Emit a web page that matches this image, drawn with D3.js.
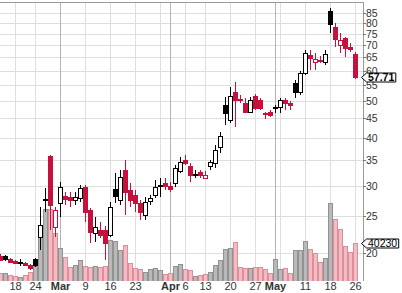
<!DOCTYPE html>
<html>
<head>
<meta charset="utf-8">
<script src="https://cdn.jsdelivr.net/npm/d3@7"></script>
<style>
  body { margin: 0; background: #fff; }
  svg { display: block; font-family: "Liberation Sans", Arial, sans-serif; }
</style>
</head>
<body>
<div id="chart"></div>
<script>
// daily bars, Feb 12 - May 26 2020
const dates = [
  '2020-02-12','2020-02-13','2020-02-14','2020-02-18','2020-02-19','2020-02-20','2020-02-21','2020-02-24','2020-02-25','2020-02-26','2020-02-27','2020-02-28',
  '2020-03-02','2020-03-03','2020-03-04','2020-03-05','2020-03-06','2020-03-09','2020-03-10','2020-03-11','2020-03-12','2020-03-13','2020-03-16','2020-03-17',
  '2020-03-18','2020-03-19','2020-03-20','2020-03-23','2020-03-24','2020-03-25','2020-03-26','2020-03-27','2020-03-30','2020-03-31',
  '2020-04-01','2020-04-02','2020-04-03','2020-04-06','2020-04-07','2020-04-08','2020-04-09','2020-04-13','2020-04-14','2020-04-15','2020-04-16','2020-04-17',
  '2020-04-20','2020-04-21','2020-04-22','2020-04-23','2020-04-24','2020-04-27','2020-04-28','2020-04-29','2020-04-30',
  '2020-05-01','2020-05-04','2020-05-05','2020-05-06','2020-05-07','2020-05-08','2020-05-11','2020-05-12','2020-05-13','2020-05-14','2020-05-15',
  '2020-05-18','2020-05-19','2020-05-20','2020-05-21','2020-05-22','2020-05-26'
];
const open = [
  19.68,19.68,19.33,19.09,18.90,18.87,18.64,19.33,22.05,27.56,35.92,23.43,
  27.07,28.23,28.06,27.56,27.90,29.80,25.95,22.59,23.00,23.00,22.32,29.45,
  27.56,33.02,29.27,28.40,27.07,25.18,27.40,28.40,30.08,30.50,
  30.00,30.50,32.80,35.07,33.80,32.13,32.60,31.47,33.80,34.44,37.90,48.83,
  44.61,52.80,50.60,49.40,46.80,51.55,50.32,46.52,46.80,
  48.25,48.25,50.32,49.40,55.75,52.80,59.20,65.99,63.30,64.20,63.30,
  86.00,78.10,70.09,73.10,69.40,66.40
];
const high = [
  19.88,19.80,19.44,19.21,19.33,18.98,18.75,19.44,26.42,29.60,36.14,26.42,
  30.72,28.90,28.90,28.90,30.17,30.17,26.26,24.88,24.14,23.57,27.23,32.40,
  33.02,35.07,30.50,29.27,27.56,28.06,28.40,31.09,31.47,31.47,
  30.72,34.03,35.70,36.14,34.44,33.02,33.02,32.80,35.07,38.38,41.50,51.20,
  54.40,56.08,51.90,50.90,51.20,52.17,50.90,46.80,47.38,
  48.83,50.90,50.90,50.00,56.76,59.80,68.01,68.01,66.80,65.60,68.01,
  87.60,80.00,75.40,73.60,70.90,67.20
];
const low = [
  19.09,19.09,18.87,18.75,18.53,18.53,18.09,18.42,20.40,25.64,23.00,22.05,
  24.88,26.74,26.42,26.74,27.23,24.14,21.27,21.40,21.92,19.21,22.05,27.07,
  26.74,25.18,26.42,25.64,24.43,24.43,26.74,27.90,28.06,29.27,
  28.90,29.80,32.40,34.03,30.72,31.47,31.47,31.28,33.02,33.40,36.58,43.29,
  43.80,42.80,49.40,46.52,46.52,47.38,47.38,44.90,45.41,
  46.52,46.52,47.38,47.38,50.90,51.86,58.50,60.29,60.29,63.00,62.13,
  75.40,69.20,66.80,65.20,67.20,57.20
];
const close = [
  19.21,19.33,18.98,18.87,18.95,18.58,18.31,18.64,23.71,27.73,26.74,25.95,
  29.80,27.73,27.56,28.06,29.60,25.64,22.73,23.43,22.32,21.27,26.42,28.23,
  31.66,28.90,27.56,27.07,25.64,27.23,27.90,29.80,30.17,30.00,
  29.45,33.40,34.65,34.44,32.04,32.20,32.04,31.95,34.65,37.24,40.50,46.52,
  51.55,50.32,50.20,46.80,50.32,47.96,47.80,46.24,45.98,
  47.96,50.32,49.40,48.83,52.80,59.20,66.80,64.80,64.40,63.80,66.40,
  79.50,72.70,72.20,68.83,68.60,57.71
];
// volume, thousands of shares
const volume = [
  8470,8470,6350,5290,4230,6350,9530,15880,56110,76230,76230,50820,
  34940,25410,14820,16940,22230,15880,14820,15350,14290,15350,43410,42350,
  32820,38110,19060,13760,12700,9530,12700,13760,11650,7410,
  8470,15880,18000,12700,11650,5290,6350,7410,9530,16940,22230,33880,
  34940,41290,14820,13760,13230,14820,14290,12180,8470,
  23290,12700,13760,8470,32820,32820,42350,33880,29640,20120,24350,
  82580,65640,55050,37050,30700,40230
];

const priceTicks = [20, 25, 30, 35, 40, 45, 50, 55, 60, 65, 70, 75, 80, 85];
const xTickDates = ['2020-02-18','2020-02-24','2020-03-02','2020-03-09','2020-03-16','2020-03-23','2020-04-01','2020-04-06',
                    '2020-04-13','2020-04-20','2020-04-27','2020-05-01','2020-05-11','2020-05-18','2020-05-26'];
const xTickLabels = ['18','24','Mar','9','16','23','Apr','6','13','20','27','May','11','18','26'];
const weekGridDates = ['2020-02-18','2020-02-24','2020-03-02','2020-03-09','2020-03-16','2020-03-23','2020-03-30','2020-04-06',
                       '2020-04-13','2020-04-20','2020-04-27','2020-05-04','2020-05-11','2020-05-18','2020-05-26'];
const monthGridDates = ['2020-03-02','2020-04-01','2020-05-01'];

const W = 402, H = 293;
const plotRight = 363, plotTop = 2, plotBottom = 281;
const red = '#c8103c';

const svg = d3.select('#chart').append('svg')
  .attr('width', W)
  .attr('height', H);

const x = d3.scalePoint().domain(dates).range([0, 355]);
const y = d3.scaleLog().domain([20, 85]).range([253, 13]);
const yVol = d3.scaleLinear().domain([0, 100000]).range([plotBottom, plotBottom - 94.5]);

svg.append('clipPath').attr('id', 'clip')
  .append('rect').attr('x', 0).attr('y', plotTop).attr('width', plotRight).attr('height', plotBottom - plotTop);

const plot = svg.append('g').attr('clip-path', 'url(#clip)');

// grid
plot.selectAll('.hgrid').data(priceTicks).enter().append('line')
  .attr('x1', 0).attr('x2', plotRight)
  .attr('y1', d => Math.round(y(d)) + 0.5).attr('y2', d => Math.round(y(d)) + 0.5)
  .attr('stroke', '#dedede');
plot.selectAll('.vgrid').data(weekGridDates).enter().append('line')
  .attr('x1', d => x(d) + 0.5).attr('x2', d => x(d) + 0.5)
  .attr('y1', plotTop).attr('y2', plotBottom)
  .attr('stroke', '#dedede');
plot.selectAll('.mgrid').data(monthGridDates).enter().append('line')
  .attr('x1', d => x(d) + 0.5).attr('x2', d => x(d) + 0.5)
  .attr('y1', plotTop).attr('y2', plotBottom)
  .attr('stroke', '#b4b4b4');

const bars = dates.map((d, i) => ({
  date: d, o: open[i], h: high[i], l: low[i], c: close[i], v: volume[i],
  up: i === 0 ? close[i] >= open[i] : close[i] >= close[i - 1]
}));

// volume
plot.selectAll('.vol').data(bars).enter().append('rect')
  .attr('x', d => x(d.date) - 1.5)
  .attr('width', 4)
  .attr('y', d => Math.round(yVol(d.v)) + 0.5)
  .attr('height', d => plotBottom - Math.round(yVol(d.v)))
  .attr('fill', d => d.up ? '#b9b9b9' : '#f3bcc3')
  .attr('stroke', d => d.up ? '#929292' : '#dc8e9a');

// candles
const candle = plot.selectAll('.candle').data(bars).enter().append('g');
candle.append('line')
  .attr('x1', d => x(d.date) + 0.5).attr('x2', d => x(d.date) + 0.5)
  .attr('y1', d => Math.round(y(d.h))).attr('y2', d => Math.round(y(d.l)))
  .attr('stroke', d => d.up ? '#000' : red);
candle.each(function(d) {
  const g = d3.select(this);
  const cx = x(d.date);
  const top = Math.round(y(Math.max(d.o, d.c)));
  const bot = Math.max(Math.round(y(Math.min(d.o, d.c))), top + 1);
  const col = d.up ? '#000' : red;
  if (d.c >= d.o) {
    g.append('rect')
      .attr('x', cx - 1.5).attr('width', 4)
      .attr('y', top + 0.5).attr('height', bot - top)
      .attr('fill', '#fff').attr('stroke', col);
  } else {
    g.append('rect')
      .attr('x', cx - 2).attr('width', 5)
      .attr('y', top).attr('height', bot - top + 1)
      .attr('fill', col);
  }
});

// frame
svg.append('line').attr('x1', 0).attr('x2', plotRight + 1).attr('y1', plotTop + 0.5).attr('y2', plotTop + 0.5)
  .attr('stroke', '#9a9a9a');
svg.append('line').attr('x1', plotRight + 0.5).attr('x2', plotRight + 0.5).attr('y1', plotTop).attr('y2', plotBottom)
  .attr('stroke', '#9a9a9a');

// right axis
const yAxis = svg.append('g');
yAxis.selectAll('line').data(priceTicks).enter().append('line')
  .attr('x1', plotRight).attr('x2', plotRight + 3)
  .attr('y1', d => Math.round(y(d)) + 0.5).attr('y2', d => Math.round(y(d)) + 0.5)
  .attr('stroke', '#777');
yAxis.selectAll('text').data(priceTicks).enter().append('text')
  .attr('x', plotRight + 3).attr('y', d => y(d))
  .attr('dy', '0.36em')
  .attr('font-size', 10.5).attr('fill', '#333')
  .text(d => d);

// x labels
svg.selectAll('.xlab').data(xTickDates).enter().append('text')
  .attr('x', d => x(d) + 0.5).attr('y', 290)
  .attr('text-anchor', 'middle')
  .attr('font-size', 11)
  .attr('font-weight', (d, i) => isNaN(+xTickLabels[i]) ? 'bold' : 'normal')
  .attr('fill', '#333')
  .text((d, i) => xTickLabels[i]);

// last value flags
function flag(yv, label, bold) {
  const yy = Math.round(yv) + 0.5;
  const t = svg.append('text')
    .attr('y', yy)
    .attr('dy', '0.36em')
    .attr('font-size', 10.5)
    .attr('font-weight', bold ? 'bold' : 'normal')
    .attr('fill', '#000')
    .text(label);
  const tw = t.node().getComputedTextLength();
  const x0 = plotRight + 3.5, x1 = Math.min(W - 1.5, x0 + tw + 3);
  svg.insert('path', () => t.node())
    .attr('d', `M${plotRight - 1.5},${yy} L${x0},${yy - 4.5} L${x1},${yy - 4.5} L${x1},${yy + 4.5} L${x0},${yy + 4.5} Z`)
    .attr('fill', '#fff').attr('stroke', '#000');
  t.attr('x', (x0 + x1) / 2).attr('text-anchor', 'middle');
}
const last = bars[bars.length - 1];
flag(y(last.c), last.c.toFixed(2), true);
flag(yVol(last.v), String(last.v), false);
</script>
</body>
</html>
